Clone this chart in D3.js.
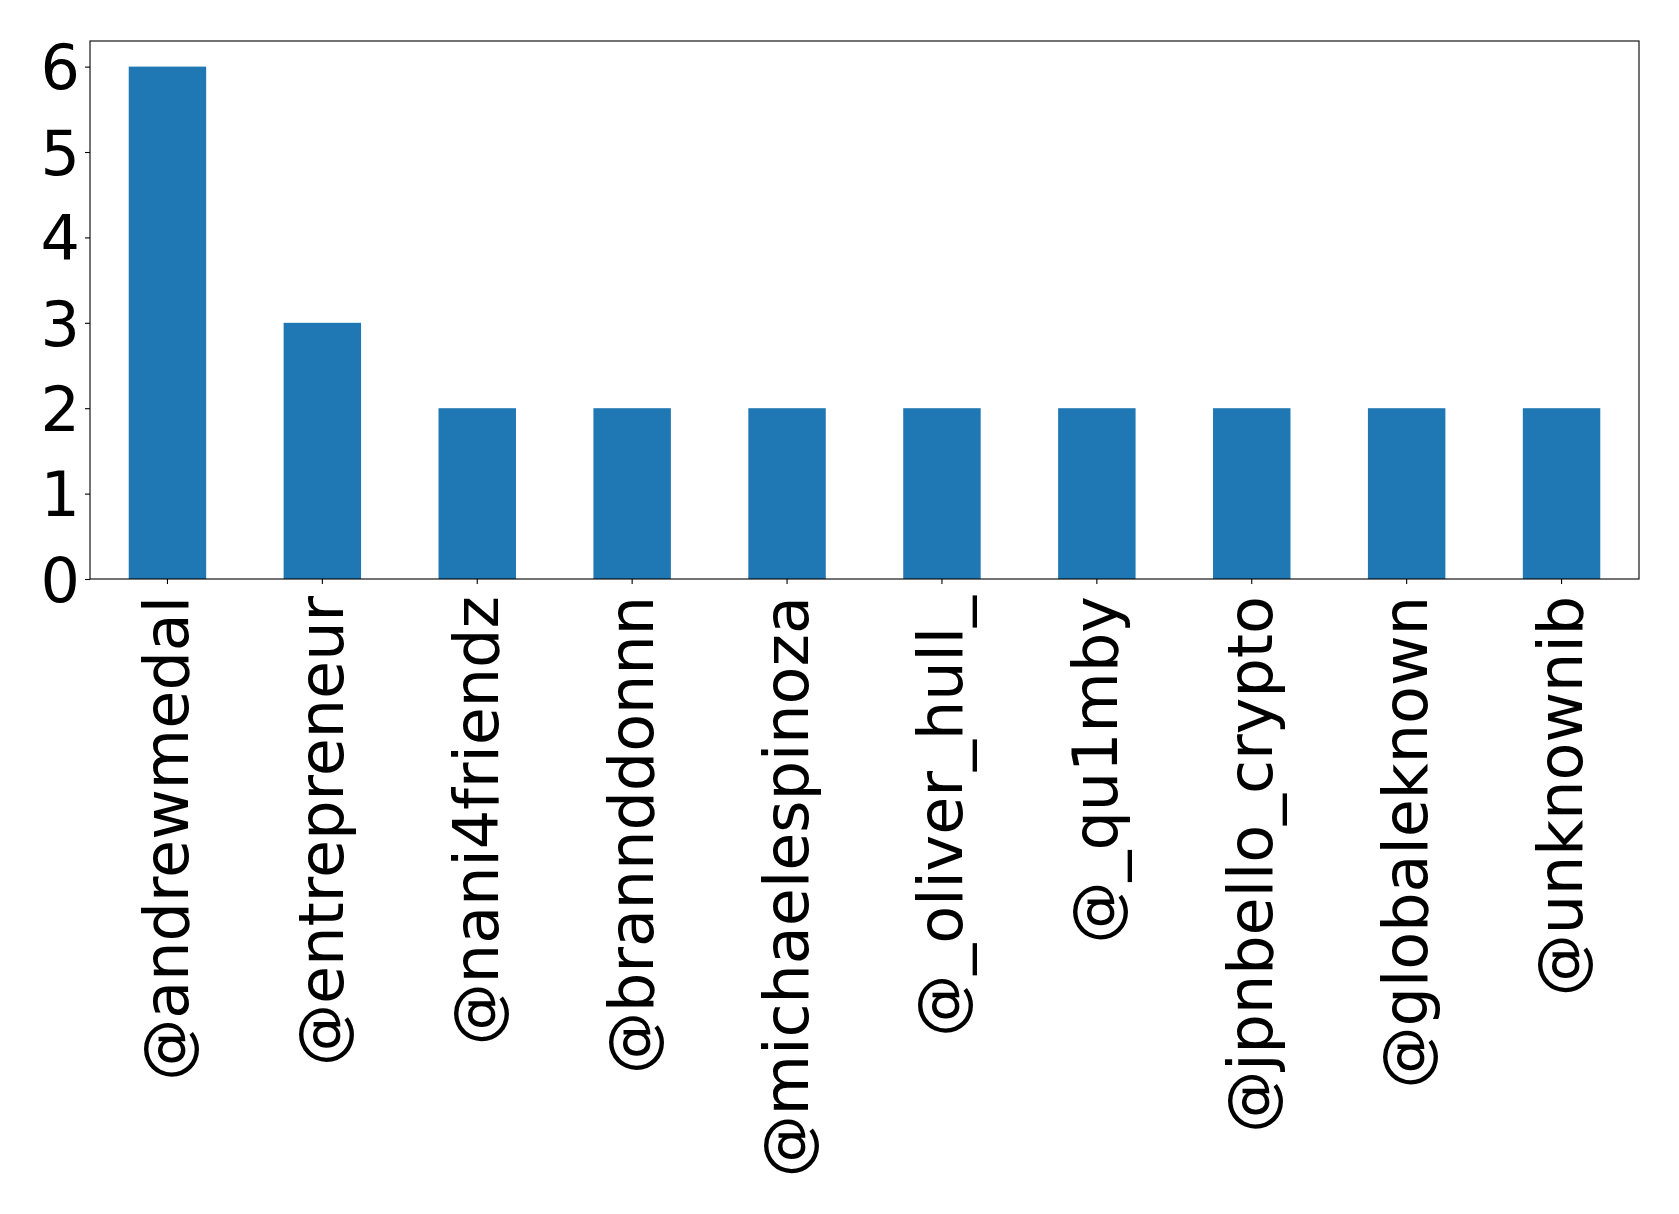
<!DOCTYPE html>
<html>
<head>
<meta charset="utf-8">
<script src="https://cdn.jsdelivr.net/npm/d3@7"></script>
<style>
  html, body { margin: 0; padding: 0; background: #fff; }
  svg { display: block; }
</style>
</head>
<body>
<svg id="chart" width="1679" height="1214"></svg>
<script>
const categories = ["@andrewmedal", "@entrepreneur", "@nani4friendz", "@brannddonnn", "@michaelespinoza", "@_oliver_hull_", "@_qu1mby", "@jpnbello_crypto", "@globaleknown", "@unknownib"];
const values = [6, 3, 2, 2, 2, 2, 2, 2, 2, 2];
const yTicks = [0, 1, 2, 3, 4, 5, 6];

const W = 1679, H = 1214;
const m = { left: 90, right: 40, top: 41, bottom: 635 };
const plotW = W - m.left - m.right;
const plotH = H - m.top - m.bottom;
const fontSize = 62;
const font = "DejaVu Sans";

const svg = d3.select("#chart");
const g = svg.append("g").attr("transform", `translate(${m.left},${m.top})`);

const x = d3.scaleBand().domain(categories).range([0, plotW]).paddingInner(0.5).paddingOuter(0.25);
const y = d3.scaleLinear().domain([0, 6.3]).range([plotH, 0]);

g.selectAll("rect.bar").data(values).enter().append("rect")
  .attr("class", "bar")
  .attr("x", (d, i) => x(categories[i]))
  .attr("width", x.bandwidth())
  .attr("y", d => y(d))
  .attr("height", d => y(0) - y(d))
  .attr("fill", "#1f77b4");

// Y axis
const yAxis = g.append("g").call(d3.axisLeft(y).tickValues(yTicks).tickSize(5).tickPadding(5).tickFormat(d3.format("d")));
yAxis.select(".domain").remove();
yAxis.selectAll("line").attr("stroke", "#000").attr("stroke-width", 1.1);
yAxis.selectAll("text").attr("font-family", font).attr("font-size", fontSize).attr("fill", "#000")
  .attr("dy", "0.36em");

// X axis
const xAxis = g.append("g").attr("transform", `translate(0,${plotH})`)
  .call(d3.axisBottom(x).tickSize(5).tickPadding(5));
xAxis.select(".domain").remove();
xAxis.selectAll("line").attr("stroke", "#000").attr("stroke-width", 1.1);
xAxis.selectAll("text")
  .attr("font-family", font).attr("font-size", fontSize).attr("fill", "#000")
  .attr("text-anchor", "end")
  .attr("dy", null)
  .attr("y", 0)
  .attr("dominant-baseline", "central")
  .attr("transform", "translate(-1,17) rotate(-90)");

// Frame
g.append("rect").attr("x", 0).attr("y", 0).attr("width", plotW).attr("height", plotH)
  .attr("fill", "none").attr("stroke", "#000").attr("stroke-width", 1.1);
</script>
</body>
</html>
